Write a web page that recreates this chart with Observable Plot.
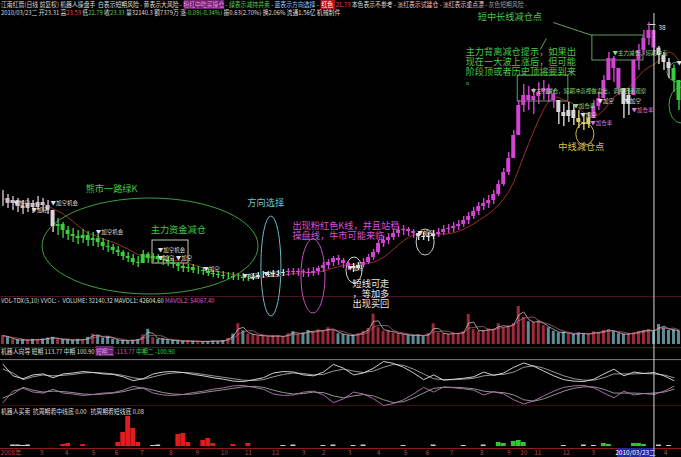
<!DOCTYPE html>
<html><head><meta charset="utf-8">
<script src="https://cdn.jsdelivr.net/npm/d3@7"></script>
<script src="https://cdn.jsdelivr.net/npm/@observablehq/plot@0.6"></script>
<style>
html,body{margin:0;padding:0;background:#000;}
#wrap{position:relative;width:681px;height:457px;overflow:hidden;background:#000;font-family:"Noto Sans CJK SC","Noto Sans",sans-serif;}
.hdr{position:absolute;left:1px;white-space:nowrap;font-size:6.5px;line-height:8px;color:#dcdcdc;transform:scaleX(0.9);transform-origin:0 0;z-index:5;}
.sep{position:absolute;left:0;width:681px;height:1px;}
</style></head><body><div id="wrap"></div>
<script>
// ---------- data ----------
const closes = [11.30,10.90,11.14,10.66,10.50,10.90,10.58,10.98,10.74,10.34,
 9.06,9.22,8.74,8.42,8.26,8.10,8.34,7.94,8.10,7.78,
 7.46,7.38,7.14,6.98,6.66,6.50,6.18,6.10,6.82,6.50,
 6.66,6.42,6.34,6.18,6.02,5.86,5.70,5.78,5.54,5.54,
 5.46,5.30,5.22,5.14,5.06,5.06,4.98,4.98,4.90,4.90,
 4.98,5.14,5.14,5.22,5.30,5.30,5.38,5.46,5.38,5.46,
 5.38,5.30,5.46,5.70,5.94,6.18,6.50,6.34,6.10,5.86,
 5.70,5.94,6.18,6.58,6.98,7.70,7.94,8.18,8.50,8.74,
 8.82,8.66,8.50,8.26,8.18,8.26,8.42,8.58,8.82,8.90,
 9.06,9.22,9.54,9.86,10.26,10.66,10.90,11.14,11.62,12.42,
 13.38,14.50,16.34,18.74,19.54,19.14,19.46,19.78,20.10,19.62,
 19.14,18.18,17.86,18.34,17.70,17.38,17.22,17.70,18.66,19.30,
 20.74,22.50,21.70,20.10,18.82,19.54,22.38,23.14,24.10,24.74,
 23.33,22.74,22.18,21.70,20.74,19.14];
const highs = [11.94,11.62,11.46,11.30,11.14,11.30,11.14,11.46,11.30,11.14,
 10.18,9.70,9.38,9.06,8.90,8.74,8.82,8.66,8.58,8.42,
 8.10,7.94,7.62,7.46,7.14,6.98,6.82,6.66,7.14,6.98,
 6.90,6.82,6.74,6.66,6.50,6.18,6.10,6.02,6.02,5.86,
 5.78,5.70,5.54,5.46,5.46,5.38,5.38,5.30,5.30,5.22,
 5.30,5.38,5.46,5.46,5.54,5.54,5.62,5.70,5.70,5.70,
 5.62,5.70,5.78,5.86,6.18,6.42,6.66,6.74,6.50,6.26,
 6.10,6.18,6.50,6.82,7.22,7.94,8.26,8.50,8.82,9.06,
 9.14,8.98,8.82,8.66,8.58,8.58,8.74,8.90,9.14,9.22,
 9.38,9.54,9.86,10.18,10.58,10.98,11.30,11.54,11.94,12.74,
 13.70,14.98,16.74,19.14,20.42,20.26,20.10,20.58,20.74,20.42,
 19.94,19.14,18.82,18.98,18.82,18.34,18.02,18.18,19.14,19.78,
 21.14,22.98,22.66,21.54,19.78,20.10,21.86,23.62,24.74,25.38,
 23.53,23.46,22.98,22.50,21.98,20.34];
const lows = [10.66,10.50,10.34,10.18,10.02,10.18,10.10,10.34,10.18,10.02,
 8.58,8.34,8.10,7.94,7.78,7.62,7.70,7.46,7.46,7.38,
 7.14,6.98,6.82,6.66,6.34,6.18,5.94,5.78,6.18,6.10,
 6.18,6.10,5.94,5.86,5.70,5.46,5.38,5.38,5.30,5.22,
 5.14,5.06,4.98,4.90,4.82,4.82,4.74,4.74,4.66,4.66,
 4.74,4.82,4.90,4.98,4.98,5.06,5.06,5.06,5.14,5.06,
 4.98,4.98,5.06,5.14,5.38,5.62,5.86,5.94,5.70,5.54,
 5.38,5.54,5.78,6.02,6.34,6.82,7.38,7.62,7.94,8.18,
 8.34,8.26,8.10,7.94,7.94,7.86,8.02,8.18,8.34,8.50,
 8.58,8.74,8.98,9.22,9.62,9.94,10.34,10.50,10.82,11.46,
 12.26,13.14,14.74,16.34,18.18,18.34,18.02,18.82,19.14,18.98,
 18.50,17.22,17.06,17.38,17.14,16.90,16.74,16.90,17.86,18.34,
 19.46,20.90,20.58,19.54,17.70,17.94,19.78,21.54,22.74,23.54,
 22.79,22.02,21.54,20.90,19.78,18.34];
const volumes = [22,18,12,11,12,10,13,11,14,16,
 18,13,11,12,10,13,11,18,26,22,
 16,20,13,10,10,9,11,12,24,38,
 17,13,14,11,10,9,8,9,8,8,
 7,8,9,8,10,15,26,52,34,26,
 25,21,23,19,22,21,19,27,32,25,
 29,35,31,37,33,42,35,27,25,22,
 23,27,33,40,76,42,33,35,29,27,
 25,23,22,24,21,27,52,29,27,25,
 29,27,32,75,37,33,35,39,37,52,
 42,47,52,95,68,57,55,59,47,42,
 33,29,31,27,25,29,27,25,32,29,
 35,37,32,27,25,27,29,33,35,37,
 32,50,42,35,37,33];
const phaseStart = [0,10,11,50,57,70,72,83,87,111,115,118,124,126,131,134];
const phaseKind = ["pale","white","green","cyan","magenta","white","magenta","white","magenta","white","yellow","magenta","white","magenta","white","green"];
const oscShort = [200,80,50,90,100,60,100,110,125,115, 100,95,70,30,50,100,120,125,115,95,
 80,60,45,25,20,40,60,110,125,120, 90,80,120,200,160,90,110,160,230,210,
 170,110,40,90,35,45,55,70,120,85, 110,170,215,180,130,80,40,25,20,45,
 100,150,80,120,105,115,80,30];
const oscMid = [150,110,40,70,90,80,85,95,110,115, 110,100,85,60,45,70,95,110,115,110,
 95,80,65,50,35,30,40,70,95,110, 105,90,95,130,150,130,115,130,170,200,
 190,150,100,50,40,40,45,55,80,90, 95,120,170,185,160,120,80,50,35,35,
 60,100,100,100,105,100,90,60];
const redIdx = [12,13,16,23,24,25,26,27,35,36,37,40,41,42,46,49];
const redVal = [2,3,2,4,14,30,18,4,12,13,4,6,8,3,2,3];
const greenIdx = [99,100,102,103,104,120,121,126,127,128];
const greenVal = [4,3,5,6,4,3,2,3,3,2];
const whiteIdx = [2,3,4,5,30,31,56,58,64,66,70,72,80,86,92,96,112,116,118,131,133];
const whiteVal = [1.5,1.5,1,1.5,1,1.5,1,1.5,1,1.5,1,1.5,1,1.5,1,1.5,1,1.5,1,1.5,1];
const tickLabels = ["2008年","3","4","5","6","7","8","9","10","11","12","3","2","3","4","5","6","7","8","9","10","11","12","3","4"];
const tickIdx = [2.1,8.2,13.2,18.6,23.2,28.2,34.0,39.3,44.7,49.5,54.9,60.5,64.5,69.7,75.5,80.9,85.3,90.1,96.1,101.5,104.5,107.3,113.0,118.4,132.8];
const cursorIdx = 130;
const cursorLabel = "2010/03/23二";
// annotations (x = bar index, y = price)
const noteX = [17.0,30.0,49.3,58.3,70.3,95.3,92.9,111.4];
const noteY = [12.10,8.82,10.98,8.70,3.66,25.86,21.84,15.46];
const noteText = ["熊市一路绿K","主力资金减仓","方向选择",
 "出现粉红色K线，并且站稳\n操盘线，牛市可能来临",
 "短线可走\n，等加多\n出现买回",
 "短中长线减仓点",
 "主力背离减仓提示，如果出\n现在一大波上涨后，但可能\n阶段顶或者历史顶将要到来\n。",
 "中线减仓点"];
const noteKind = ["green","green","cyan","magenta","white","green","green","yellow"];
const markX = [2.6,6.2,10.0,19.0,31.4,31.4,35.0,40.5,48.3,52.5,69.3,83.3,105.9,122.2,119.2,114.4,115.8,117.8,124.6,126.0,135.0];
const markY = [10.90,10.40,10.90,8.58,7.16,6.52,6.52,5.62,5.06,5.22,5.70,8.50,19.86,22.90,19.10,18.70,17.98,17.30,19.10,18.40,22.10];
const markText = ["▼加空","▼加空","▼加空机会","▼加空机会","▼加空机会","▼加空","▼加空","▼加空","▼加空","▼加空","▼加空","▼加空",
 "▼主力减仓，短期冲高视做卖出，调整结束观察","▼主力减仓，短期冲高",
 "▼加空","▼加仓率","▼加空","▼加仓率","▼加空","▼加仓率","▼"];
const markKind = ["white","white","white","white","white","white","white","white","white","white","white","white","green","green","white","green","white","magenta","white","magenta","white"];
const ellCx = [29.96,54.1,62.5,70.7,84.9,116.8,135.4,136.0];
const ellCy = [7.46,5.86,5.06,5.54,7.78,16.42,21.38,18.74];
const ellRx = [21.57,2.0,2.4,1.6,1.8,1.8,2.2,2.4];
const ellRy = [3.84,4.0,2.96,1.04,1.04,0.88,0.8,1.44];
const ellKind = ["green","cyan","magenta","white","white","yellow","green","green"];
const boxX1 = [30.36,118.2,103.3], boxX2 = [37.55,128.4,113.4];
const boxY1 = [7.94,24.34,21.14], boxY2 = [6.10,22.34,19.06];
const boxKind = ["pale","green","green"];
const linkX1 = [110.4,107.8,129.2], linkY1 = [25.38,23.22,25.22];
const linkX2 = [118.2,109.0,130.8], linkY2 = [24.34,24.10,25.22];
const linkKind = ["green","green","white"];
const peakIdx = 131.4, peakPrice = 24.98, peakText = "38";

// ---------- styles ----------
const W = 681;
const CJK = '"Noto Sans CJK SC","Noto Sans",sans-serif';
const C = {pale:"#cdbfc8", white:"#d8d8d8", green:"#3ccc3c", cyan:"#a6e4ea", magenta:"#d244d2", yellow:"#dccb66"};
const NOTEC = {green:"#48c848", cyan:"#6cc6d8", magenta:"#d452d4", white:"#e6e6e6", yellow:"#d8c050"};
const ELLC = {green:"#3f9f3f", cyan:"#68b8c8", magenta:"#c050c0", white:"#d0d0d0", yellow:"#c8b048"};
const BOXC = {pale:"#c8c8b0", green:"#5fa05f", white:"#dddddd"};
const MARKC = {white:"#dedede", green:"#88d888", magenta:"#d878d8"};

const phaseOf = i => { let k = 0; for (let j = 0; j < phaseStart.length; j++) if (phaseStart[j] <= i) k = j; return phaseKind[k]; };
const candles = closes.map((c, i) => ({i, x: i + 0.5, open: i ? closes[i - 1] : c, close: c, high: highs[i], low: lows[i], phase: phaseOf(i), v: volumes[i]}));
const notes = noteText.map((t, k) => ({x: noteX[k], y: noteY[k], t, kind: noteKind[k]}));
const markers = markText.map((t, k) => ({x: markX[k], y: markY[k], t, kind: markKind[k]}));
const ells = ellCx.map((cx, k) => ({cx, cy: ellCy[k], rx: ellRx[k], ry: ellRy[k], kind: ellKind[k]}));
const boxes = boxX1.map((x1, k) => ({x1, x2: boxX2[k], y1: boxY1[k], y2: boxY2[k], kind: boxKind[k]}));
const links = linkX1.map((x1, k) => ({x1, y1: linkY1[k], x2: linkX2[k], y2: linkY2[k], kind: linkKind[k]}));
const osc = oscShort.map((s, k) => ({x: 2 * k + 0.5, s, m: oscMid[k]}));
const sig = [
  ...redIdx.map((i, k) => ({i, v: redVal[k], c: "#e01c1c"})),
  ...greenIdx.map((i, k) => ({i, v: greenVal[k], c: "#34c434"})),
  ...whiteIdx.map((i, k) => ({i, v: whiteVal[k], c: "#cfcfcf"}))
];
const ticks = tickLabels.map((t, k) => ({t, x: tickIdx[k]}));

function ellipseMark(rows) {
  return function (index, scales) {
    const ns = "http://www.w3.org/2000/svg";
    const g = document.createElementNS(ns, "g");
    const s = scales && typeof scales.x === "function" ? scales : null;
    if (!s) return g;
    for (const e of rows) {
      const cx = s.x(e.cx), cy = s.y(e.cy);
      const rx = Math.abs(s.x(e.cx + e.rx) - cx), ry = Math.abs(s.y(e.cy + e.ry) - cy);
      const el = document.createElementNS(ns, "ellipse");
      el.setAttribute("cx", cx); el.setAttribute("cy", cy);
      el.setAttribute("rx", rx); el.setAttribute("ry", ry);
      el.setAttribute("fill", "none"); el.setAttribute("stroke", ELLC[e.kind]);
      el.setAttribute("stroke-width", 1);
      g.appendChild(el);
    }
    return g;
  };
}

const xs = {domain: [0, 136], axis: null};
const baseStyle = {background: "transparent", color: "#ddd", fontFamily: CJK, overflow: "visible"};
const wrap = document.getElementById("wrap");
function place(node, top) { node.style.position = "absolute"; node.style.left = "0px"; node.style.top = top + "px"; wrap.appendChild(node); return node; }
function sep(top, color) { const d = document.createElement("div"); d.className = "sep"; d.style.top = top + "px"; d.style.background = color; wrap.appendChild(d); }
function hdr(top, html) { const d = document.createElement("div"); d.className = "hdr"; d.style.top = top + "px"; d.innerHTML = html; wrap.appendChild(d); }

// separators
sep(296, "#4a1222"); sep(347, "#5a1414"); sep(405, "#3e0e0e"); sep(448, "#8a1e1e");

// volume panel
place(Plot.plot({
  width: W, height: 52, marginTop: 8, marginBottom: 4, marginLeft: 0, marginRight: 0,
  x: xs, y: {domain: [0, 100], axis: null}, color: {type: "identity"}, style: baseStyle,
  marks: [
    Plot.rect(candles, {x1: d => d.i + 0.2, x2: d => d.i + 0.8, y1: () => 0, y2: "v", fill: d => d.close >= d.open ? "#9c2a3a" : "#5d8c95"}),
    Plot.lineY(candles, Plot.windowY({k: 2, anchor: "end"}, {x: "x", y: "v", stroke: "#d8d8d8", strokeWidth: 0.7})),
    Plot.lineY(candles, Plot.windowY({k: 4, anchor: "end"}, {x: "x", y: "v", stroke: "#c87088", strokeWidth: 0.7}))
  ]
}), 296);

// oscillator panel
place(Plot.plot({
  width: W, height: 58, marginTop: 13, marginBottom: 1, marginLeft: 0, marginRight: 0,
  x: xs, y: {domain: [-230, 230], axis: null}, style: baseStyle,
  marks: [
    Plot.ruleY([250], {stroke: "#7a7a7a", strokeWidth: 1}),
    Plot.line(osc, {x: "x", y: d => -d.m, stroke: "#98a898", strokeWidth: 0.9}),
    Plot.line(osc, {x: "x", y: d => -d.s, stroke: "#b878b8", strokeWidth: 0.9}),
    Plot.line(osc, {x: "x", y: "m", stroke: "#a8a8a8", strokeWidth: 0.9}),
    Plot.line(osc, {x: "x", y: "s", stroke: "#e4e4e4", strokeWidth: 0.9})
  ]
}), 348);

// buy/sell signal panel
place(Plot.plot({
  width: W, height: 42, marginTop: 8, marginBottom: 2, marginLeft: 0, marginRight: 0,
  x: xs, y: {domain: [0, 32], axis: null}, color: {type: "identity"}, style: baseStyle,
  marks: [
    Plot.rect(sig, {x1: d => d.i + 0.02, x2: d => d.i + 0.98, y1: () => 0, y2: "v", fill: "c"})
  ]
}), 406);

// time axis band
place(Plot.plot({
  width: W, height: 9, marginTop: 0, marginBottom: 0, marginLeft: 0, marginRight: 0,
  x: xs, style: baseStyle,
  marks: [
    Plot.rect([cursorIdx], {x1: d => d - 6.8, x2: d => d + 0.4, fill: "#2626aa"}),
    Plot.text(ticks, {x: "x", text: "t", fill: "#b84848", fontSize: 6.5, fontFamily: CJK}),
    Plot.text([cursorIdx], {x: d => d - 3.2, text: () => cursorLabel, fill: "#ffffff", fontSize: 6.5, fontFamily: CJK})
  ]
}), 448);

// main price panel (drawn last, transparent, overlays everything)
place(Plot.plot({
  width: W, height: 457, marginTop: 20, marginBottom: 165, marginLeft: 0, marginRight: 0,
  x: xs, y: {domain: [3.78, 25.54], axis: null}, color: {type: "identity"}, style: baseStyle,
  marks: [
    ellipseMark(ells),
    Plot.rect(boxes, {x1: "x1", x2: "x2", y1: "y1", y2: "y2", fill: "none", stroke: d => BOXC[d.kind], strokeWidth: 1}),
    Plot.link(links, {x1: "x1", y1: "y1", x2: "x2", y2: "y2", stroke: d => BOXC[d.kind], strokeWidth: 1}),
    Plot.lineY(candles, Plot.windowY({k: 8, anchor: "end"}, {x: "x", y: "close", stroke: "#a83a28", strokeWidth: 0.9})),
    Plot.ruleX(candles, {x: "x", y1: "low", y2: "high", stroke: d => C[d.phase], strokeWidth: 1.4}),
    Plot.rect(candles, {x1: d => d.i + 0.1, x2: d => d.i + 0.9, y1: "open", y2: "close", fill: d => C[d.phase]}),
    Plot.text(markers, {x: "x", y: "y", text: "t", fill: d => MARKC[d.kind], fontSize: 5.5, fontFamily: CJK, textAnchor: "start"}),
    Plot.text(notes, {x: "x", y: "y", text: "t", fill: d => NOTEC[d.kind], fontSize: 9.2, lineHeight: 1.05, fontFamily: CJK, textAnchor: "start"}),
    Plot.text([peakIdx], {x: d => d, y: () => peakPrice, text: () => peakText, fill: "#e0e0e0", fontSize: 6.5, fontFamily: CJK, textAnchor: "start"}),
    Plot.ruleX([cursorIdx], {x: d => d + 0.5, y1: () => -9.42, y2: () => 26.1, stroke: "#d8d8d8", strokeWidth: 1})
  ]
}), 0);

// header texts
hdr(0, '江南红箭(日线 前复权) 机器人操盘手&nbsp; 白表示短期风险 - 黄表示大风险 - <span style="background:#6e246e;color:#e48ae4">粉红中吃买操仓</span> - <span style="color:#4ed04e">绿表示减持并卖</span> - <span style="color:#9cc8ff">蓝表示方向选择</span> - <span style="background:#b01818;color:#fff">&nbsp;红色&nbsp;</span> <span style="color:#ff4848">21.73</span> 本色表示不参考 - <span style="color:#f0c0c0">淡红表示试建仓</span> - <span style="color:#f0c0c0">淡红表示重点漂</span> - <span style="color:#9a9a9a">灰色短期风险 -</span>');
hdr(8, '2010/03/23二 开23.31 高<span style="color:#ff4a4a">23.53</span> 低<span style="color:#4ed04e">22.79</span> 收<span style="color:#4ed04e">23.33</span> 量32140.3 额7379万 涨<span style="color:#4ed04e">-0.09(-0.34%)</span> 振0.63(2.70%) 换2.06% 流通1.56亿 机械制件');
hdr(296, 'VOL-TDX(5,10) VVOL: -&nbsp; VOLUME: 32140.32 <span style="color:#cfe8cf">MAVOL1: 42604.60</span> <span style="color:#d060d0">MAVOL2: 54067.40</span>');
hdr(347, '机器人向导 短期 113.77 中期 100.90 <span style="background:#6e246e;color:#e48ae4">短期二</span> <span style="color:#d060d0">-113.77</span> <span style="color:#4ed04e">中期二 -100.90</span>');
hdr(407, '机器人买卖&nbsp; 抗周期看中线底 0.00&nbsp;&nbsp; 抗周期看短线底 0.08');
</script></body></html>
